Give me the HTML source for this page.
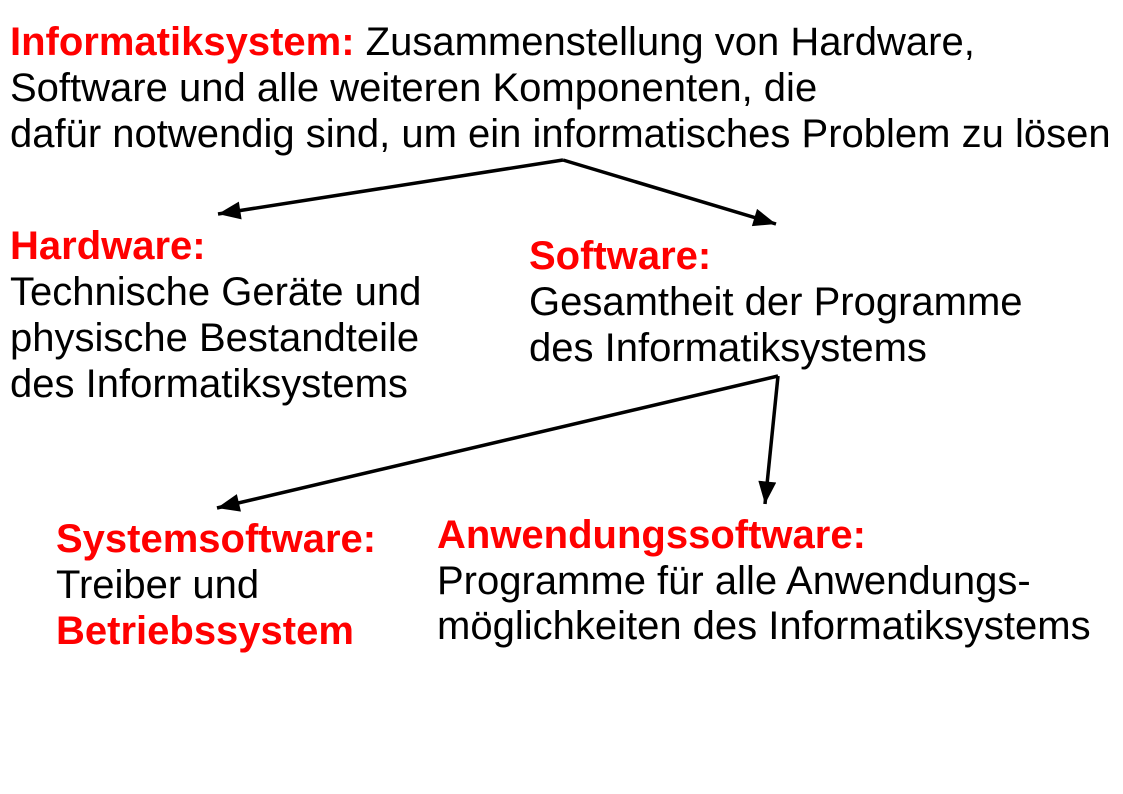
<!DOCTYPE html>
<html><head><meta charset="utf-8"><style>
body{margin:0;width:1123px;height:794px;background:#fff;position:relative;overflow:hidden;font-family:"Liberation Sans",sans-serif;font-size:40px;color:#000}
.t{position:absolute;line-height:46px;white-space:nowrap}
.r{color:#f00;font-weight:bold}
svg{position:absolute;left:0;top:0}
</style></head><body>
<div class="t" style="left:10px;top:19px"><span class="r">Informatiksystem:</span> Zusammenstellung von Hardware,<br>Software und alle weiteren Komponenten, die<br>dafür notwendig sind, um ein informatisches Problem zu lösen</div>
<div class="t" style="left:10px;top:223px"><span class="r">Hardware:</span><br>Technische Geräte und<br>physische Bestandteile<br>des Informatiksystems</div>
<div class="t" style="left:529px;top:233px"><span class="r">Software:</span><br>Gesamtheit der Programme<br>des Informatiksystems</div>
<div class="t" style="left:56px;top:516px"><span class="r">Systemsoftware:</span><br>Treiber und<br><span class="r">Betriebssystem</span></div>
<div class="t" style="left:437px;top:513px;line-height:45.5px"><span class="r">Anwendungssoftware:</span><br>Programme für alle Anwendungs-<br>möglichkeiten des Informatiksystems</div>
<svg width="1123" height="794">
<defs>
<marker id="b" viewBox="0 0 10 8" refX="10" refY="4" markerWidth="26" markerHeight="18" orient="auto" markerUnits="userSpaceOnUse"><path d="M0,0L10,4L0,8z"/></marker></defs>
<g stroke="#000" stroke-width="3.5" fill="none">
<line x1="563" y1="160" x2="218" y2="214" marker-end="url(#b)"/>
<line x1="563" y1="160" x2="776" y2="224" marker-end="url(#b)"/>
<line x1="778" y1="376" x2="217" y2="508" marker-end="url(#b)"/>
<line x1="778" y1="376" x2="765" y2="504" marker-end="url(#b)"/>
</g>
</svg>
</body></html>
